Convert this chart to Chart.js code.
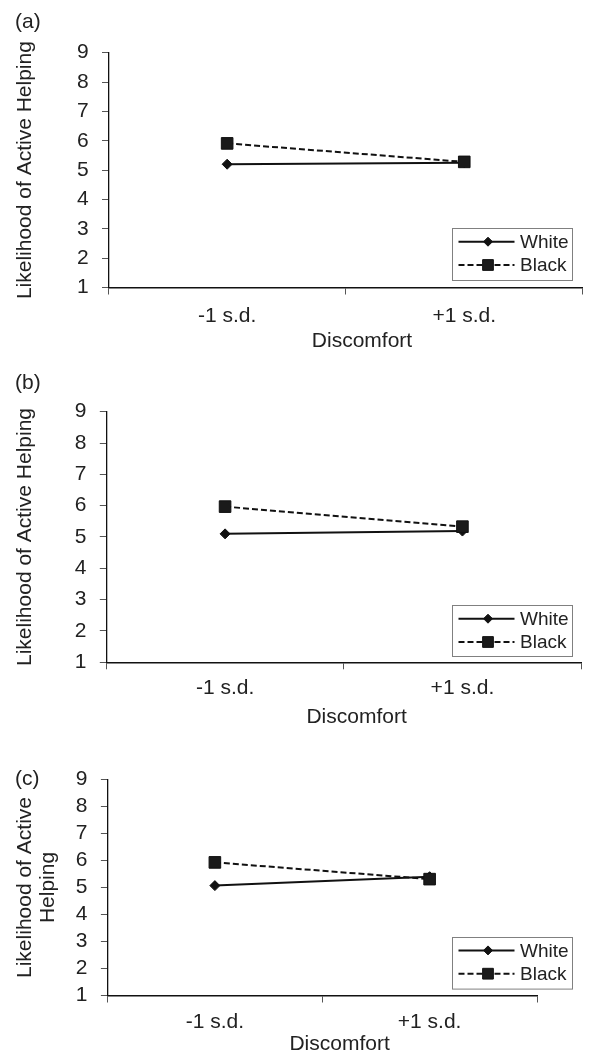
<!DOCTYPE html>
<html><head><meta charset="utf-8">
<script src="https://cdn.jsdelivr.net/npm/chart.js"></script>
<style>
html,body{margin:0;padding:0;background:#fff;}
body{width:592px;height:1055px;position:relative;overflow:hidden;}
canvas{position:absolute;left:0;}
</style></head><body>
<canvas id="ca" width="592" height="360" style="top:0px"></canvas>
<canvas id="cb" width="592" height="370" style="top:360px"></canvas>
<canvas id="cc" width="592" height="325" style="top:730px"></canvas>
<script>
// ---- data ----
const categories = ['-1 s.d.', '+1 s.d.'];
const yTicks = [1, 2, 3, 4, 5, 6, 7, 8, 9];
const seriesNames = ['White', 'Black'];
const panelLabels = ['(a)', '(b)', '(c)'];
const xTitle = 'Discomfort';
const yTitleAB = 'Likelihood of Active Helping';
const yTitleC = ['Likelihood of Active', 'Helping'];
const whiteA = [5.20, 5.25];
const blackA = [5.91, 5.28];
const whiteB = [5.10, 5.19];
const blackB = [5.97, 5.33];
const whiteC = [5.07, 5.40];
const blackC = [5.93, 5.31];

const FONT = '"Liberation Sans", Arial, Helvetica, sans-serif';
const TXT = '#222';

function markerPath(ctx, style, x, y, r) {
  ctx.beginPath();
  if (style === 'rectRot') {
    ctx.moveTo(x - r, y); ctx.lineTo(x, y - r); ctx.lineTo(x + r, y); ctx.lineTo(x, y + r);
  } else {
    const s = r * Math.SQRT1_2;
    ctx.rect(x - s, y - s, 2 * s, 2 * s);
  }
  ctx.closePath();
}

const overlay = {
  id: 'overlay',
  afterDraw(chart, args, o) {
    const ctx = chart.ctx;
    ctx.save();
    ctx.fillStyle = TXT;
    ctx.font = '21px ' + FONT;
    ctx.textBaseline = 'middle';
    ctx.textAlign = 'left';
    ctx.fillText(o.panelLabel, o.labelX, o.labelY);
    ctx.textAlign = 'center';
    ctx.fillText(o.xTitle, o.xTitleX, o.xTitleY);
    // legend box
    const b = o.box;
    ctx.strokeStyle = '#808080';
    ctx.lineWidth = 1;
    ctx.strokeRect(Math.round(b.x) + 0.5, Math.round(b.y) + 0.5, b.w, b.h);
    ctx.font = '19px ' + FONT;
    ctx.textAlign = 'left';
    chart.data.datasets.forEach((ds, i) => {
      const y = b.y + o.rows[i];
      ctx.beginPath();
      ctx.setLineDash(ds.borderDash || []);
      ctx.lineWidth = ds.borderWidth;
      ctx.strokeStyle = ds.borderColor;
      ctx.moveTo(b.x + 7, y); ctx.lineTo(b.x + 63, y);
      ctx.stroke();
      ctx.setLineDash([]);
      ctx.fillStyle = ds.pointBackgroundColor;
      ctx.strokeStyle = ds.pointBorderColor;
      ctx.lineWidth = 1;
      markerPath(ctx, ds.pointStyle, b.x + 36.5, y, ds.pointStyle === 'rectRot' ? 4.5 : 7.6);
      ctx.fill(); ctx.stroke();
      ctx.fillStyle = TXT;
      ctx.fillText(ds.label, b.x + 68.5, y + 1);
    });
    ctx.restore();
  }
};

const panels = [
  {id: 'ca', top: 0, h: 360, white: whiteA, black: blackA, yTitle: yTitleAB,
   axisX: 108.6, right: 591.7, y9: 52.7, y1: 287.5, tickPad: 9,
   xTitleX: 362, xTitleY: 341, labelY: 22.5, box: {x: 451.5, y: 228, w: 120, h: 52}},
  {id: 'cb', top: 360, h: 370, white: whiteB, black: blackB, yTitle: yTitleAB,
   axisX: 106.4, right: 581.1, y9: 411.7, y1: 662.3, tickPad: 6,
   xTitleX: 356.6, xTitleY: 717.7, labelY: 383, box: {x: 451.5, y: 605, w: 120, h: 51}},
  {id: 'cc', top: 730, h: 325, white: whiteC, black: blackC, yTitle: yTitleC,
   axisX: 107.5, right: 537, y9: 779.5, y1: 995.5, tickPad: 7.6,
   xTitleX: 339.6, xTitleY: 1044.3, labelY: 779, box: {x: 451.5, y: 936.7, w: 120, h: 51.6}}
];

panels.forEach((g, idx) => {
  const multi = Array.isArray(g.yTitle);
  new Chart(document.getElementById(g.id), {
    type: 'line',
    data: {
      labels: categories,
      datasets: [
        {label: seriesNames[0], data: g.white, borderColor: '#111', backgroundColor: '#111',
         borderWidth: 2, pointStyle: 'rectRot', pointRadius: 5, pointBorderWidth: 1,
         pointBackgroundColor: '#111', pointBorderColor: '#111', order: 1, tension: 0, fill: false},
        {label: seriesNames[1], data: g.black, borderColor: '#111', backgroundColor: '#1a1a1a',
         borderWidth: 2, borderDash: [6, 3], pointStyle: 'rect', pointRadius: 8.2, pointBorderWidth: 1,
         pointBackgroundColor: '#1a1a1a', pointBorderColor: '#111', order: 0, tension: 0, fill: false}
      ]
    },
    options: {
      responsive: false, animation: false, devicePixelRatio: 1,
      layout: {padding: {top: g.y9 - g.top, left: 0, right: 592 - g.right, bottom: 0}},
      plugins: {
        legend: {display: false}, tooltip: {enabled: false},
        overlay: {panelLabel: panelLabels[idx], labelX: 15, labelY: g.labelY - g.top,
                  xTitle: xTitle, xTitleX: g.xTitleX, xTitleY: g.xTitleY - g.top,
                  box: {x: g.box.x, y: g.box.y - g.top, w: g.box.w, h: g.box.h}, rows: [13.7, 37]}
      },
      scales: {
        x: {
          type: 'category', offset: true,
          grid: {offset: true, drawOnChartArea: false, drawTicks: true, tickLength: 7, color: '#555', lineWidth: 1},
          border: {display: true, color: '#111', width: 1.5},
          ticks: {font: {family: FONT, size: 21}, color: TXT, padding: g.tickPad, maxRotation: 0, autoSkip: false},
          afterFit: s => { s.height = g.h - (g.y1 - g.top); }
        },
        y: {
          min: yTicks[0], max: yTicks[yTicks.length - 1],
          afterBuildTicks: s => { s.ticks = yTicks.map(v => ({value: v})); },
          ticks: {font: {family: FONT, size: 21}, color: TXT, padding: 13.4, autoSkip: false},
          grid: {drawOnChartArea: false, drawTicks: true, tickLength: 6.6, color: '#555', lineWidth: 1},
          border: {display: true, color: '#111', width: 1.3},
          title: {display: true, text: g.yTitle, color: TXT,
                  font: {family: FONT, size: 21, lineHeight: multi ? 1.1 : 1.2},
                  padding: {top: multi ? 13.9 : 12.9, bottom: 0}},
          afterFit: s => { s.width = g.axisX; }
        }
      }
    },
    plugins: [overlay]
  });
});
</script>
</body></html>
